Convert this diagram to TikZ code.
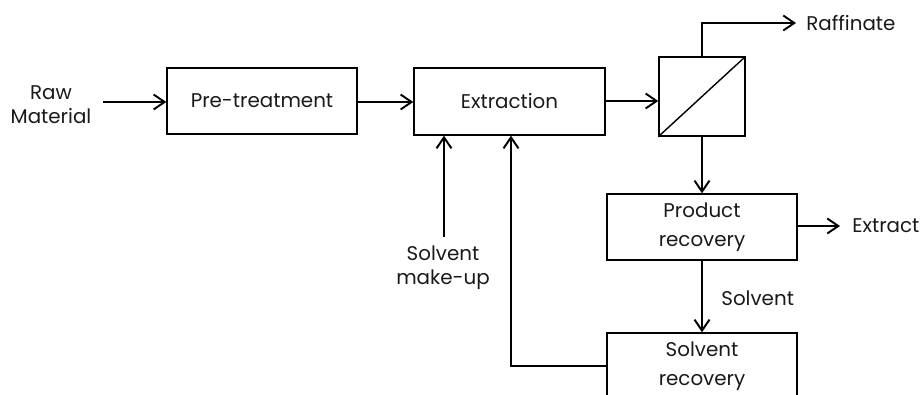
\documentclass[tikz,border=0pt]{standalone}
\usepackage{fontspec}
\setmainfont{Poppins}
\usetikzlibrary{arrows.meta}
\begin{document}
\begin{tikzpicture}[x=0.02cm,y=-0.02cm,
  every node/.style={text=black!90},
  unit/.style={draw, line width=0.8pt, inner sep=0pt, align=center,
    font=\fontsize{11.3}{16.3}\selectfont},
  lab/.style={inner xsep=0pt, inner ysep=0pt, align=center,
    font=\fontsize{11.3}{13.8}\selectfont},
  flow/.style={draw, line width=1.1pt,
    -{Straight Barb[length=2.2mm, width=3mm, line width=1.1pt]}},
  pipe/.style={draw, line width=1.1pt}]
\clip (0,0) rectangle (921,395);
\useasboundingbox (0,0) rectangle (921,395);

% process units
\node[unit, minimum width=3.8cm, minimum height=1.32cm] (pre) at (262,101) {Pre-treatment};
\node[unit, minimum width=3.82cm, minimum height=1.34cm] (extr) at (509.5,101.5) {Extraction};
\node[unit, minimum width=1.72cm, minimum height=1.58cm] (sep) at (702,96.5) {};
\draw[line width=0.8pt] (sep.south west) -- (sep.north east);
\node[unit, minimum width=3.8cm, minimum height=1.32cm] (prod) at (702,227) {Product\\recovery};
\node[unit, minimum width=3.8cm, minimum height=1.32cm] (solrec) at (702,366) {Solvent\\recovery};

% stream labels
\node[lab, anchor=center] (raw) at (51,105) {Raw\\Material};
\node[lab, anchor=west] (raf) at (806,23) {Raffinate};
\node[lab, anchor=west] (extlab) at (852,226) {Extract};
\node[lab, anchor=west] (solv) at (721,298) {Solvent};
\node[lab, anchor=center] (mk) at (443,268) {Solvent\\make-up};

\coordinate (rawout) at (103,102);
\coordinate (rafend) at (796,23);
\coordinate (extend) at (840,226);
\coordinate (mkin) at (444,237);
\coordinate (rc) at (511,0);

% streams
\draw[flow] (rawout) -- (rawout -| pre.west);
\draw[flow] (pre.east |- 0,102) -- (extr.west |- 0,102);
\draw[flow] (extr.east |- 0,101) -- (sep.west |- 0,101);
\draw[flow] (sep.north) |- (rafend);
\draw[flow] (sep.south) -- (prod.north);
\draw[flow] (prod.east |- extend) -- (extend);
\draw[flow] (prod.south) -- (solrec.north);
\draw[flow] (mkin) -- (mkin |- extr.south);
\draw[flow] (solrec.west) -| (extr.south -| rc);
\end{tikzpicture}
\end{document}
